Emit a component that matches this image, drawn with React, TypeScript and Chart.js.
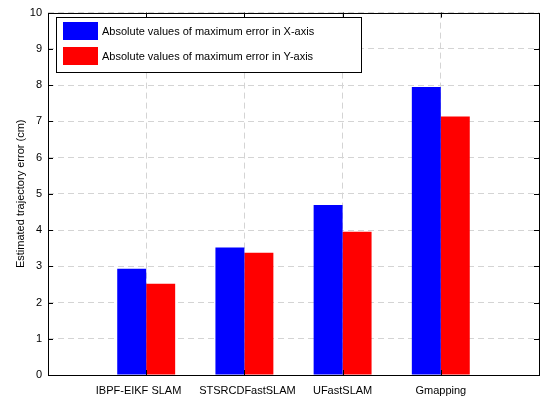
import React, { useEffect, useRef } from 'react';
import { Chart, registerables } from 'chart.js';

Chart.register(...registerables);

// ---- data ----
const categories = ['', 'IBPF-EIKF SLAM     ', '  STSRCDFastSLAM', 'UFastSLAM', 'Gmapping', ''];
const errorX = [null, 2.93, 3.52, 4.69, 7.95, null];
const errorY = [null, 2.52, 3.37, 3.95, 7.13, null];
const seriesNames = [
  'Absolute values of maximum error in X-axis',
  'Absolute values of maximum error in Y-axis',
];
const seriesColors = ['#0000ff', '#ff0000'];
const yMin = 0;
const yMax = 10;
const yStep = 1;
const yTitle = 'Estimated trajectory error (cm)';

const FONT = '"Liberation Sans", Arial, Helvetica, sans-serif';

const matlabPlugin = {
  id: 'matlabAxes',
  afterDatasetsDraw(chart: any) {
    const { ctx, chartArea } = chart;
    const { left, right, top, bottom } = chartArea;
    const xs = chart.scales.x;
    const ys = chart.scales.y;
    ctx.save();
    ctx.strokeStyle = '#000';
    ctx.lineWidth = 1;
    // box
    ctx.strokeRect(Math.round(left) + 0.5, Math.round(top) + 0.5, Math.round(right - left), Math.round(bottom - top));
    // y ticks inward
    const tl = 5;
    ys.ticks.forEach((t: any) => {
      const y = Math.round(ys.getPixelForValue(t.value)) + 0.5;
      ctx.beginPath();
      ctx.moveTo(left, y);
      ctx.lineTo(left + tl, y);
      ctx.moveTo(right, y);
      ctx.lineTo(right - tl, y);
      ctx.stroke();
    });
    // x ticks inward
    for (let i = 1; i < categories.length - 1; i++) {
      const x = Math.round(xs.getPixelForValue(i)) + 0.5;
      ctx.beginPath();
      ctx.moveTo(x, top);
      ctx.lineTo(x, top + tl);
      ctx.moveTo(x, bottom);
      ctx.lineTo(x, bottom - tl);
      ctx.stroke();
    }
    // legend
    const lx = 56.5, ly = 17.5, lw = 305, lh = 55;
    ctx.fillStyle = '#fff';
    ctx.fillRect(lx, ly, lw, lh);
    ctx.strokeRect(lx, ly, lw, lh);
    ctx.font = `11px ${FONT}`;
    ctx.textBaseline = 'middle';
    ctx.textAlign = 'left';
    chart.data.datasets.forEach((ds: any, i: number) => {
      const sy = 22 + i * 25;
      ctx.fillStyle = ds.backgroundColor;
      ctx.fillRect(63, sy, 35, 18);
      ctx.fillStyle = '#000';
      ctx.fillText(ds.label, 102, sy + 9.5);
    });
    ctx.restore();
  },
};

export default function App() {
  const ref = useRef<HTMLCanvasElement>(null);
  useEffect(() => {
    if (!ref.current) return;
    const chart = new Chart(ref.current, {
      type: 'bar',
      data: {
        labels: categories,
        datasets: [
          { label: seriesNames[0], data: errorX, backgroundColor: seriesColors[0], borderWidth: 0 },
          { label: seriesNames[1], data: errorY, backgroundColor: seriesColors[1], borderWidth: 0 },
        ],
      },
      options: {
        responsive: false,
        animation: false,
        layout: { padding: { top: 11, right: 5, left: 0, bottom: 0 } },
        datasets: { bar: { categoryPercentage: 0.59, barPercentage: 1.0 } },
        plugins: {
          legend: { display: false },
          tooltip: { enabled: false },
        },
        scales: {
          x: {
            type: 'category',
            offset: false,
            grid: { color: '#d4d4d4', lineWidth: 1, drawTicks: false, offset: false },
            border: { display: false, dash: [6, 4] },
            ticks: {
              color: '#000',
              padding: 9,
              maxRotation: 0,
              autoSkip: false,
              font: { family: FONT, size: 11 },
            },
            afterFit(scale: any) {
              scale.height = 26;
            },
          },
          y: {
            min: yMin,
            max: yMax,
            grid: { color: '#d4d4d4', lineWidth: 1, drawTicks: false },
            border: { display: false, dash: [6, 4] },
            ticks: {
              stepSize: yStep,
              color: '#000',
              padding: 6,
              font: { family: FONT, size: 11 },
            },
            title: {
              display: true,
              text: yTitle,
              color: '#000',
              font: { family: FONT, size: 11 },
              padding: { top: 14, bottom: 0 },
            },
            afterFit(scale: any) {
              scale.width = 48;
            },
          },
        },
      },
      plugins: [matlabPlugin],
    });
    return () => chart.destroy();
  }, []);
  return (
    <div style={{ position: 'absolute', left: 0, top: 0, width: 548, height: 401, background: '#fff' }}>
      <canvas ref={ref} width={548} height={401} />
    </div>
  );
}
